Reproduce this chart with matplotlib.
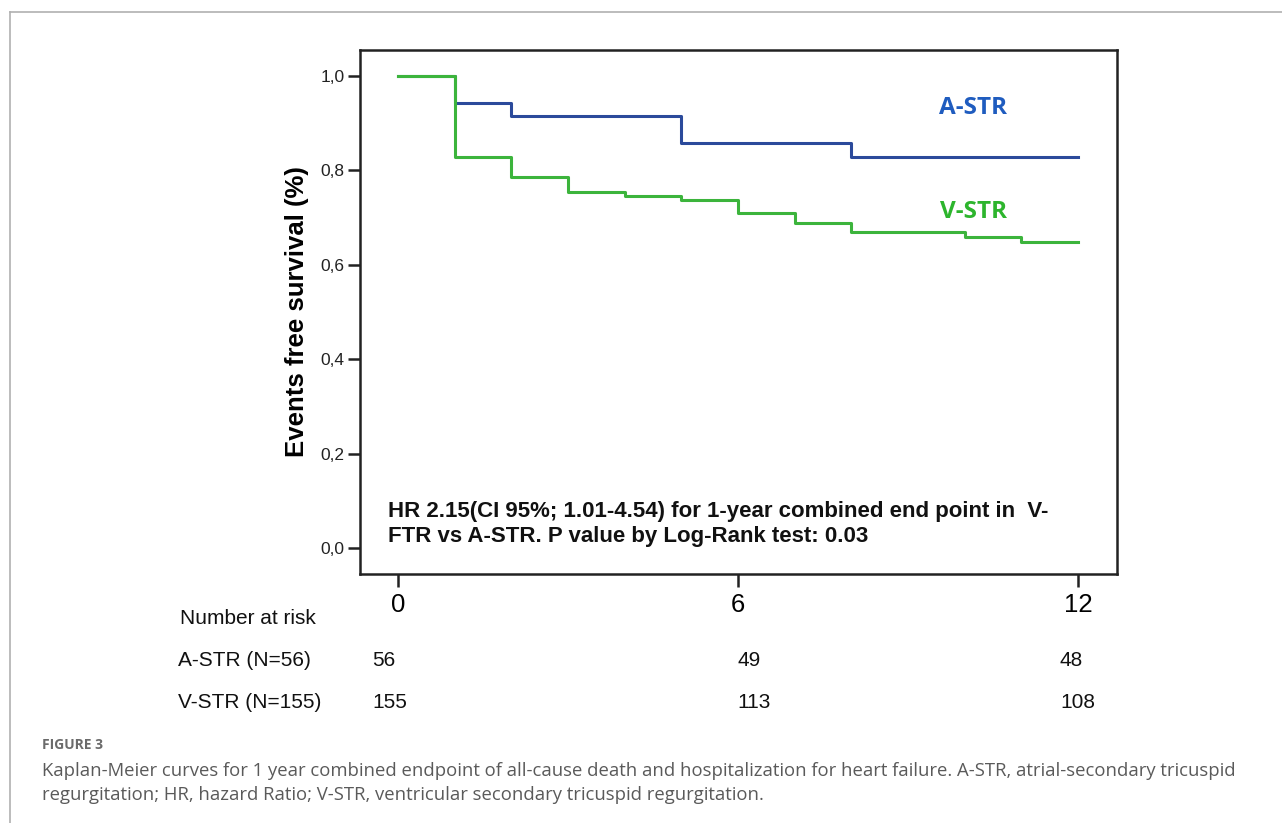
import matplotlib
matplotlib.use('Agg')
import matplotlib.pyplot as plt
from matplotlib.lines import Line2D

# Kaplan-Meier step values (months, survival)
a_times = [0, 1, 2, 5, 8, 12]
a_surv = [1.0, 0.943, 0.915, 0.859, 0.829, 0.829]
v_times = [0, 1, 2, 3, 4, 5, 6, 7, 8, 10, 11, 12]
v_surv = [1.0, 0.829, 0.787, 0.755, 0.746, 0.737, 0.709, 0.689, 0.669, 0.658, 0.648, 0.648]

x_ticks = [0, 6, 12]
y_ticks = [0.0, 0.2, 0.4, 0.6, 0.8, 1.0]
y_tick_labels = ['0,0', '0,2', '0,4', '0,6', '0,8', '1,0']

risk_rows = ['A-STR (N=56)', 'V-STR (N=155)']
risk_a = [56, 49, 48]
risk_v = [155, 113, 108]

W, H = 1282, 823
font = 'Liberation Sans'


def fx(x):
    return x / W


def fy(y):
    return 1 - y / H


fig = plt.figure(figsize=(W / 100, H / 100), dpi=100)

# outer grey frame (top and left)
fig.add_artist(Line2D([fx(10), 1.0], [fy(12), fy(12)], color='#b0b0b0', lw=1.2))
fig.add_artist(Line2D([fx(10), fx(10)], [fy(12), 0.0], color='#b0b0b0', lw=1.2))

ax = fig.add_axes([fx(360), fy(574), fx(1117) - fx(360), fy(50) - fy(574)])

ax.step(a_times, a_surv, where='post', color='#2b4a9b', lw=2.2)
ax.step(v_times, v_surv, where='post', color='#3cb43c', lw=2.2)

ax.set_xlim(-0.67, 12.69)
ax.set_ylim(-0.055, 1.055)

ax.set_xticks(x_ticks)
ax.set_xticklabels([str(t) for t in x_ticks], fontsize=18.5, family=font)
ax.set_yticks(y_ticks)
ax.set_yticklabels(y_tick_labels, fontsize=12.5, family=font, color='#222222')
ax.tick_params(axis='both', direction='out', length=9, width=1.8, color='#222222')
ax.tick_params(axis='x', pad=5)
ax.tick_params(axis='y', pad=2)

for s in ax.spines.values():
    s.set_linewidth(1.8)
    s.set_color('#222222')

ax.set_ylabel('Events free survival (%)', fontsize=18.5, fontweight='bold',
              family=font, labelpad=8)

ax.text(10.15, 0.932, 'A-STR', color='#1f5cbf', fontsize=17.5, fontweight='bold',
        family='Open Sans', ha='center', va='center')
ax.text(10.15, 0.712, 'V-STR', color='#2db52d', fontsize=17.5, fontweight='bold',
        family='Open Sans', ha='center', va='center')

ax.text(-0.17, 0.051,
        'HR 2.15(CI 95%; 1.01-4.54) for 1-year combined end point in  V-\n'
        'FTR vs A-STR. P value by Log-Rank test: 0.03',
        fontsize=16, fontweight='bold', family=font, color='#111111',
        ha='left', va='center', linespacing=1.25)

# number at risk table
fig.text(fx(180), fy(619), 'Number at risk', fontsize=15, family=font,
         ha='left', va='center', color='#111111')
row_y = [660, 702]
col_x = [372, 737, 1060]
for label, vals, yy in zip(risk_rows, [risk_a, risk_v], row_y):
    fig.text(fx(178), fy(yy), label, fontsize=15, family=font,
             ha='left', va='center', color='#111111')
    for v, xx in zip(vals, col_x):
        fig.text(fx(xx), fy(yy), str(v), fontsize=15, family=font,
                 ha='left', va='center', color='#111111')

# caption
fig.text(fx(42), fy(745), 'FIGURE 3', fontsize=10, fontweight='bold',
         family='Open Sans', color='#6b6b6b', ha='left', va='center')
fig.text(fx(42), fy(783),
         'Kaplan-Meier curves for 1 year combined endpoint of all-cause death and hospitalization for heart failure. A-STR, atrial-secondary tricuspid\n'
         'regurgitation; HR, hazard Ratio; V-STR, ventricular secondary tricuspid regurgitation.',
         fontsize=13.3, family='Open Sans', color='#5a5a5a', ha='left', va='center',
         linespacing=1.45)

fig.savefig('out.png', dpi=100)
